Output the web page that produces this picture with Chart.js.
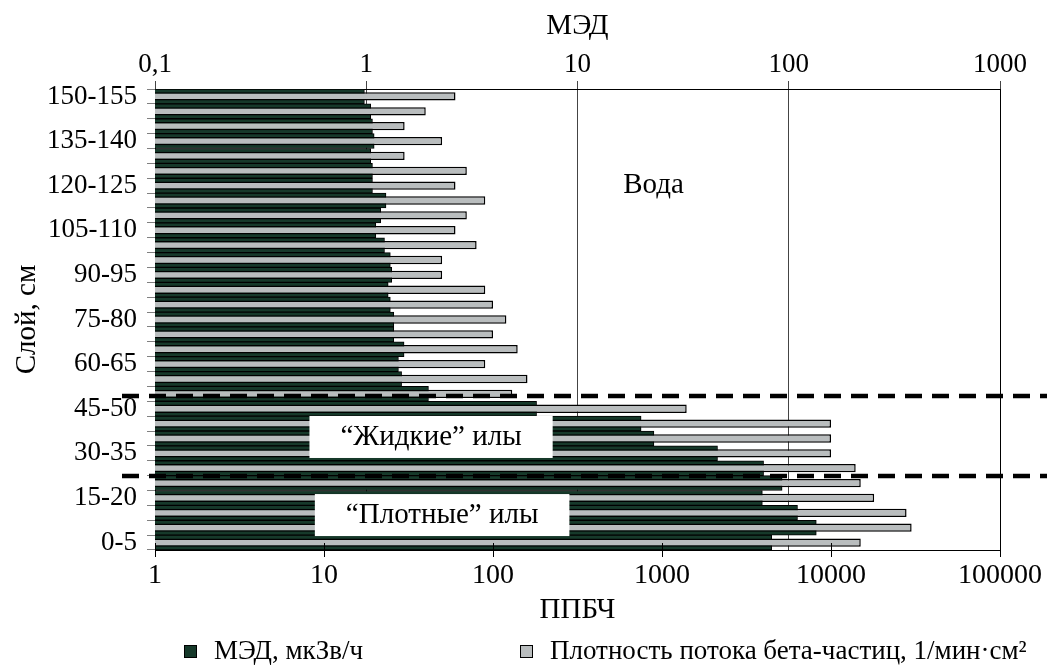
<!DOCTYPE html>
<html lang="ru">
<head>
<meta charset="utf-8">
<title>МЭД и ППБЧ по слоям</title>
<script src="https://cdn.jsdelivr.net/npm/chart.js@4.4.1/dist/chart.umd.min.js"></script>
<style>
  html, body { margin: 0; padding: 0; background: #fff; }
  #wrap { width: 1059px; height: 671px; }
</style>
</head>
<body>
<div id="wrap"><canvas id="chart" width="1059" height="671"></canvas></div>
<script>
// Слои, сверху вниз
const layers = [
  '150-155', '145-150', '140-145', '135-140', '130-135', '125-130', '120-125',
  '115-120', '110-115', '105-110', '100-105', '95-100', '90-95', '85-90',
  '80-85', '75-80', '70-75', '65-70', '60-65', '55-60', '50-55', '45-50',
  '40-45', '35-40', '30-35', '25-30', '20-25', '15-20', '10-15', '5-10', '0-5'
];

// МЭД, мкЗв/ч (верхняя ось)
const medValues = [
  0.98, 1.05, 1.07, 1.09, 1.05, 1.07, 1.07, 1.24, 1.17, 1.11, 1.22, 1.30,
  1.32, 1.27, 1.30, 1.35, 1.35, 1.51, 1.42, 1.47, 1.97, 6.4, 20, 23, 46,
  76, 93, 75, 110, 135, 83
];

// ППБЧ, 1/мин·см2 (нижняя ось)
const ppbchValues = [
  60, 40, 30, 50, 30, 70, 60, 90, 70, 60, 80, 50, 50, 90, 100, 120, 100,
  140, 90, 160, 130, 1400, 10000, 10000, 10000, 14000, 15000, 18000,
  28000, 30000, 15000
];

const medTicks = [0.1, 1, 10, 100, 1000];
const medTickLabels = ['0,1', '1', '10', '100', '1000'];
const ppbchTicks = [1, 10, 100, 1000, 10000, 100000];
const ppbchTickLabels = ['1', '10', '100', '1000', '10000', '100000'];

const legendLabels = ['МЭД, мкЗв/ч', 'Плотность потока бета-частиц, 1/мин·см²'];

// Границы зон (в индексах слоёв) и подписи зон
const zoneBorders = [20.14, 25.52];
const zoneLabels = [
  { text: 'Вода', x: 890, y: 5.95, box: false },
  { text: '“Жидкие” илы', x: 43, y: 22.9, box: true },
  { text: '“Плотные” илы', x: 50, y: 28.15, box: true }
];

const colorMed = '#16392a';
const colorPpbch = '#b9bdbe';
const serif = "'Liberation Serif', 'Times New Roman', serif";

Chart.defaults.font.family = serif;
Chart.defaults.color = '#000';

// Пунктирные линии, подписи зон, правая рамка, засечки нижней оси
const zonesPlugin = {
  id: 'zones',
  afterDatasetsDraw(chart) {
    const { ctx, chartArea, scales } = chart;
    const { left, right, top, bottom } = chartArea;
    ctx.save();
    ctx.strokeStyle = '#000';
    ctx.lineWidth = 1;
    ctx.beginPath();
    ctx.moveTo(right + 0.5, top);
    ctx.lineTo(right + 0.5, bottom);
    ppbchTicks.forEach(v => {
      const x = Math.round(scales.x.getPixelForValue(v)) + 0.5;
      ctx.moveTo(x, bottom - 7);
      ctx.lineTo(x, bottom);
    });
    ctx.stroke();

    ctx.lineWidth = 4.5;
    ctx.setLineDash([17, 10]);
    zoneBorders.forEach(v => {
      const y = scales.y.getPixelForValue(v);
      ctx.beginPath();
      ctx.moveTo(left - 33, y);
      ctx.lineTo(right + 47, y);
      ctx.stroke();
    });
    ctx.setLineDash([]);

    ctx.font = '29px ' + serif;
    ctx.textAlign = 'center';
    ctx.textBaseline = 'middle';
    zoneLabels.forEach(l => {
      const x = scales.x.getPixelForValue(l.x);
      const y = scales.y.getPixelForValue(l.y);
      if (l.box) {
        const w = ctx.measureText(l.text).width + 62;
        ctx.fillStyle = '#fff';
        ctx.fillRect(x - w / 2, y - 21, w, 42);
      }
      ctx.fillStyle = '#000';
      ctx.fillText(l.text, x, y);
    });
    ctx.restore();
  }
};

// Легенда под графиком
const legendPlugin = {
  id: 'bottomLegend',
  afterDraw(chart) {
    const { ctx } = chart;
    const y = 652;
    const starts = [184, 520];
    const colors = [colorMed, colorPpbch];
    ctx.save();
    ctx.font = '27px ' + serif;
    ctx.textBaseline = 'middle';
    ctx.textAlign = 'left';
    legendLabels.forEach((text, i) => {
      ctx.fillStyle = colors[i];
      ctx.fillRect(starts[i], y - 7, 13, 13);
      ctx.strokeStyle = '#000';
      ctx.lineWidth = 1;
      ctx.strokeRect(starts[i] + 0.5, y - 6.5, 12, 12);
      ctx.fillStyle = '#000';
      ctx.fillText(text, starts[i] + 30, y);
    });
    ctx.restore();
  }
};

new Chart(document.getElementById('chart'), {
  type: 'bar',
  data: {
    labels: layers,
    datasets: [
      {
        label: legendLabels[0],
        data: medValues,
        xAxisID: 'x2',
        grouped: false,
        order: 1,
        backgroundColor: colorMed,
        borderColor: '#000',
        borderWidth: 1,
        barPercentage: 1,
        categoryPercentage: 1
      },
      {
        label: legendLabels[1],
        data: ppbchValues,
        xAxisID: 'x',
        grouped: false,
        order: 0,
        backgroundColor: colorPpbch,
        borderColor: '#000',
        borderWidth: 1.5,
        barPercentage: 0.56,
        categoryPercentage: 1
      }
    ]
  },
  options: {
    indexAxis: 'y',
    responsive: false,
    animation: false,
    layout: { padding: { left: 0, right: 59, top: 0, bottom: 0 } },
    plugins: {
      legend: { display: false },
      tooltip: { enabled: false }
    },
    scales: {
      y: {
        type: 'category',
        position: 'left',
        offset: true,
        afterFit: s => { s.width = 155; },
        grid: { offset: true, drawOnChartArea: false, tickLength: 8, color: '#808080' },
        border: { color: '#000', width: 1 },
        ticks: {
          autoSkip: false,
          padding: 10,
          font: { size: 27 },
          callback: function(value, index) {
            return index % 3 === 0 ? this.getLabelForValue(value) : '';
          }
        },
        title: { display: true, text: 'Слой, см', font: { size: 29 }, padding: { top: 10 } }
      },
      x: {
        type: 'logarithmic',
        position: 'bottom',
        min: 1,
        max: 100000,
        afterFit: s => { s.height = 121; },
        afterBuildTicks: s => { s.ticks = ppbchTicks.map(v => ({ value: v })); },
        grid: { drawOnChartArea: false, tickLength: 7, color: '#000' },
        border: { color: '#000', width: 1 },
        ticks: {
          autoSkip: false,
          maxRotation: 0,
          padding: 2,
          font: { size: 28 },
          callback: (value, index) => ppbchTickLabels[index]
        },
        title: { display: true, text: 'ППБЧ', font: { size: 29 }, padding: { bottom: 43 } }
      },
      x2: {
        type: 'logarithmic',
        position: 'top',
        min: 0.1,
        max: 1000,
        afterFit: s => { s.height = 89; },
        afterBuildTicks: s => { s.ticks = medTicks.map(v => ({ value: v })); },
        grid: { drawOnChartArea: true, tickLength: 8, color: '#444', lineWidth: 1 },
        border: { color: '#000', width: 1 },
        ticks: {
          autoSkip: false,
          maxRotation: 0,
          padding: 0,
          font: { size: 27 },
          callback: (value, index) => medTickLabels[index]
        },
        title: { display: true, text: 'МЭД', font: { size: 29 }, padding: { top: 9 } }
      }
    }
  },
  plugins: [zonesPlugin, legendPlugin]
});
</script>
</body>
</html>
